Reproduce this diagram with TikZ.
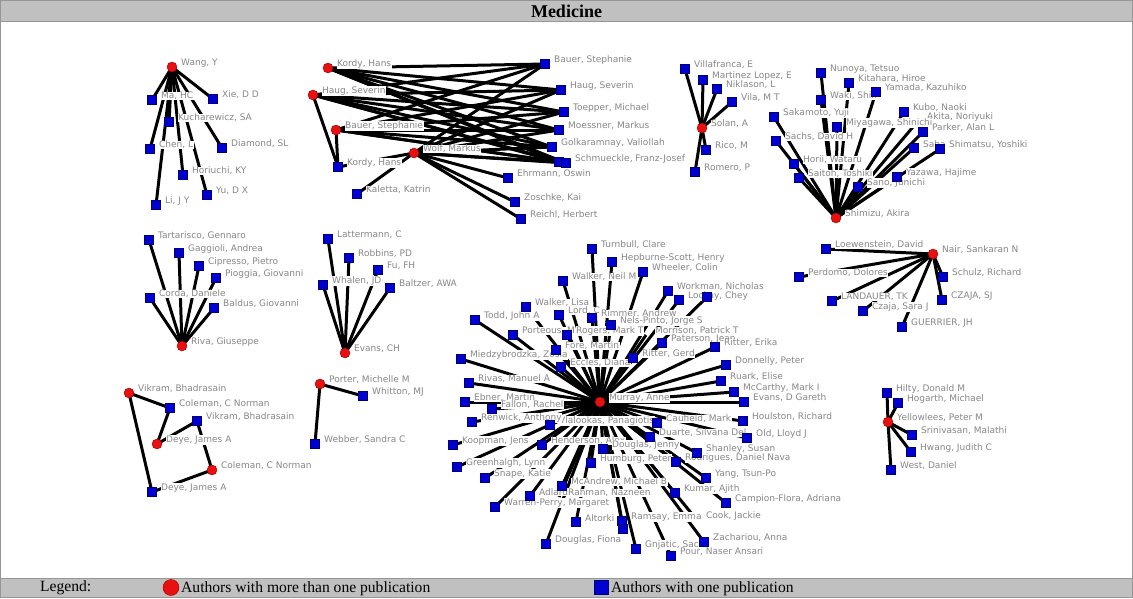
\documentclass[tikz,border=0pt]{standalone}
\usepackage{fontspec}
\setmainfont{Liberation Serif}
\newfontfamily\lblfont{DejaVu Sans}

\definecolor{barfill}{RGB}{192,192,192}
\definecolor{framegrey}{RGB}{150,150,150}
\definecolor{lblgrey}{RGB}{135,135,135}
\definecolor{sqblue}{RGB}{0,0,210}
\definecolor{sqedge}{RGB}{0,0,110}
\definecolor{dotred}{RGB}{232,16,16}
\definecolor{dotedge}{RGB}{150,0,0}

\tikzset{
  edge/.style={line width=3pt, black},
  lbl/.style={anchor=west, fill=white, text=lblgrey, inner xsep=0.5pt, inner ysep=0.5pt,
              font=\lblfont\fontsize{9}{9}\selectfont},
  single/.style={rectangle, draw=sqedge, fill=sqblue, minimum size=9.5pt, inner sep=0pt, line width=0.6pt},
  multi/.style={circle, draw=dotedge, fill=dotred, minimum size=10pt, inner sep=0pt, line width=0.4pt},
  frame/.style={draw=framegrey, line width=0.8pt},
  legendtext/.style={anchor=west, inner sep=0pt, font=\fontsize{15.6}{16}\selectfont},
}

% name / x / y / kind (0 none, 1 single paper, 2 several papers) / label
\def\authorlist{%
w0/172/67/2/{Wang, Y},
w1/152/100/1/{Ma, HC},
w2/213/99/1/{Xie, D D},
w3/169/122/1/{Kucharewicz, SA},
w4/150/149/1/{Chen, L},
w5/222/148/1/{Diamond, SL},
w6/183/175/1/{Horiuchi, KY},
w7/207/195/1/{Yu, D X},
w8/156/205/1/{Li, J Y},
k1/328/68/2/{Kordy, Hans},
k2/313/95/2/{Haug, Severin},
k3/336/130/2/{Bauer, Stephanie},
k4/338/167/1/{Kordy, Hans},
k5/414/153/2/{Wolf, Markus},
k6/357/194/1/{Kaletta, Katrin},
k7/545/64/1/{Bauer, Stephanie},
k8/561/90/1/{Haug, Severin},
k9/564/112/1/{Toepper, Michael},
k10/559/130/1/{Moessner, Markus},
k11/552/147/1/{Golkaramnay, Valiollah},
k13/559/162/1/{},
k12/566/163/1/{Schmueckle, Franz-Josef},
k14/508/178/1/{Ehrmann, Oswin},
k15/515/202/1/{Zoschke, Kai},
k16/521/219/1/{Reichl, Herbert},
s0/702/128/2/{Solan, A},
s1/685/69/1/{Villafranca, E},
s2/703/80/1/{Martinez Lopez, E},
s3/717/89/1/{Niklason, L},
s4/732/102/1/{Vila, M T},
s5/706/150/1/{Rico, M},
s6/695/172/1/{Romero, P},
h0/836/218/2/{Shimizu, Akira},
h1/821/73/1/{Nunoya, Tetsuo},
h2/849/83/1/{Kitahara, Hiroe},
h3/876/92/1/{Yamada, Kazuhiko},
h4/821/100/1/{Waki, Shin},
h5/904/112/1/{Kubo, Naoki},
h6/918/121/0/{Akita, Noriyuki},
h7/774/117/1/{Sakamoto, Yuji},
h8/837/127/1/{Miyagawa, Shinichi},
h9/923/132/1/{Parker, Alan L},
h10/776/141/1/{Sachs, David H},
h11/914/148/1/{Saba},
h12/940/149/1/{Shimatsu, Yoshiki},
h13/794/164/1/{Horii, Wataru},
h14/799/178/1/{Saitoh, Toshiki},
h15/897/177/1/{Yazawa, Hajime},
h16/858/187/1/{Sano, Junichi},
r0/182/346/2/{Riva, Giuseppe},
r1/149/240/1/{Tartarisco, Gennaro},
r2/179/253/1/{Gaggioli, Andrea},
r3/199/266/1/{Cipresso, Pietro},
r4/216/278/1/{Pioggia, Giovanni},
r5/150/298/1/{Corda, Daniele},
r6/214/308/1/{Baldus, Giovanni},
e0/345/353/2/{Evans, CH},
e1/328/239/1/{Lattermann, C},
e2/349/258/1/{Robbins, PD},
e3/378/270/1/{Fu, FH},
e4/323/285/1/{Whalen, JD},
e5/390/288/1/{Baltzer, AWA},
n0/933/254/2/{Nair, Sankaran N},
n1/826/249/1/{Loewenstein, David},
n2/799/277/1/{Perdomo, Dolores},
n3/943/277/1/{Schulz, Richard},
n4/832/301/1/{LANDAUER, TK},
n5/942/300/1/{CZAJA, SJ},
n6/863/311/1/{Czaja, Sara J},
n7/902/327/1/{GUERRIER, JH},
v1/129/393/2/{Vikram, Bhadrasain},
v2/170/408/1/{Coleman, C Norman},
v3/197/421/1/{Vikram, Bhadrasain},
v4/157/444/2/{Deye, James A},
v5/212/470/2/{Coleman, C Norman},
v6/152/492/1/{Deye, James A},
p0/320/384/2/{Porter, Michelle M},
p1/363/396/1/{Whitton, MJ},
p2/315/444/1/{Webber, Sandra C},
y0/888/422/2/{Yellowlees, Peter M},
y1/887/393/1/{Hilty, Donald M},
y2/898/403/1/{Hogarth, Michael},
y3/912/435/1/{Srinivasan, Malathi},
y4/911/452/1/{Hwang, Judith C},
y5/891/470/1/{West, Daniel},
m1/592/249/1/{Turnbull, Clare},
m2/612/262/1/{Hepburne-Scott, Henry},
m3/643/272/1/{Wheeler, Colin},
m4/563/281/1/{Walker, Neil M},
m5/668/291/1/{Workman, Nicholas},
m6/679/300/1/{Lockay, Chey},
m7/707/297/1/{},
m8/526/307/1/{Walker, Lisa},
m9/559/315/1/{Lord, C},
m10/592/318/1/{Rimmer, Andrew},
m11/611/325/1/{Nels-Pinto, Jorge S},
m12/475/320/1/{Todd, John A},
m13/513/335/1/{Porteous, M},
m14/567/335/1/{Rogers, Mark T},
m15/646/335/0/{Morrison, Patrick T},
m16/662/343/1/{Paterson, Jean},
m17/715/347/1/{Ritter, Erika},
m18/556/350/1/{Fore, Martin},
m19/633/358/1/{Ritter, Gerd},
m20/461/359/1/{Miedzybrodzka, Zosia},
m21/561/367/1/{Eccles, Diana},
m22/726/365/1/{Donnelly, Peter},
m23/469/383/1/{Rivas, Manuel A},
m24/721/381/1/{Ruark, Elise},
m25/734/392/1/{McCarthy, Mark I},
m26/744/402/1/{Evans, D Gareth},
m27/465/402/1/{Ebner, Martin},
m28/492/409/1/{Fallon, Rachel},
m30/550/425/1/{Vlalookas, Panagiotis},
m29/472/422/1/{Renwick, Anthony},
m31/657/423/1/{Caufield, Mark},
m32/743/421/1/{Houlston, Richard},
m33/453/445/1/{Koopman, Jens},
m34/542/445/1/{Henderson, Alex},
m35/650/437/1/{Duarte, Silvana Del},
m36/747/438/1/{Old, Lloyd J},
m37/603/449/1/{Douglas, Jenny},
m38/697/453/1/{Shanley, Susan},
m39/457/467/1/{Greenhalgh, Lynn},
m40/591/463/1/{Humburg, Peter},
m41/676/462/1/{Rodrigues, Daniel Nava},
m42/485/478/1/{Snape, Katie},
m43/706/478/1/{Yang, Tsun-Po},
m44/562/486/1/{McAndrew, Michael B},
m45/675/493/1/{Kumar, Ajith},
m46/530/496/1/{Adlard},
m47/559/497/0/{Rahman, Nazneen},
m48/726/503/1/{Campion-Flora, Adriana},
m49/495/507/1/{Warren-Perry, Margaret},
m50/576/522/1/{Altorki},
m51/622/521/1/{Ramsay, Emma},
m52/623/529/1/{},
m53/697/520/0/{Cook, Jackie},
m54/546/544/1/{Douglas, Fiona},
m55/636/549/1/{Gnjatic, Sacha},
m56/704/542/1/{Zachariou, Anna},
m57/671/556/1/{Pour, Naser Ansari},
m0/600/402/2/{Murray, Anne}%
}

\begin{document}
\begin{tikzpicture}[x=1pt,y=-1pt]
  \useasboundingbox (0,0) rectangle (1133,598);
  \fill[white] (0,0) rectangle (1133,598);

  % title bar and legend bar
  \fill[barfill] (0,0) rectangle (1133,21);
  \fill[barfill] (0,578) rectangle (1133,598);
  \draw[frame] (0.4,0.4) rectangle (1132.6,597.6);
  \draw[frame] (0,21) -- (1133,21);
  \draw[frame] (0,578) -- (1133,578);
  \node[font=\bfseries\fontsize{18}{18}\selectfont, inner sep=0pt] (title) at (566.5,11) {Medicine};

  % author positions
  \foreach \nm/\px/\py/\kk/\tx in \authorlist {
    \coordinate (\nm) at (\px,\py);
  }

  % co-authorship links
  \foreach \b in {w1,w2,w3,w4,w5,w6,w7,w8}
    \draw[edge] (w0) -- (\b);
  \foreach \a in {k1,k2,k3,k5}
    \foreach \b in {k7,k8,k9,k10,k11,k12,k13}
      \draw[edge] (\a) -- (\b);
  \foreach \a in {k2,k3,k5}
    \draw[edge] (\a) -- (k4);
  \foreach \b in {k6,k14,k15,k16}
    \draw[edge] (k5) -- (\b);
  \foreach \b in {s1,s2,s3,s4,s5,s6}
    \draw[edge] (s0) -- (\b);
  \foreach \b in {h1,h2,h3,h4,h5,h6,h7,h8,h9,h10,h11,h12,h13,h14,h15,h16}
    \draw[edge] (h0) -- (\b);
  \foreach \b in {r1,r2,r3,r4,r5,r6}
    \draw[edge] (r0) -- (\b);
  \foreach \b in {e1,e2,e3,e4,e5}
    \draw[edge] (e0) -- (\b);
  \foreach \b in {n1,n2,n3,n4,n5,n6,n7}
    \draw[edge] (n0) -- (\b);
  \draw[edge] (v1) -- (v2) -- (v4) -- (v3) -- (v5) -- (v6) -- (v1);
  \draw[edge] (p1) -- (p0) -- (p2);
  \foreach \b in {y1,y2,y3,y4,y5}
    \draw[edge] (y0) -- (\b);
  \foreach \b in {m1,m2,m3,m4,m5,m6,m7,m8,m9,m10,m11,m12,m13,m14,m15,m16,m17,m18,m19,m20,
                  m21,m22,m23,m24,m25,m26,m27,m28,m29,m30,m31,m32,m33,m34,m35,m36,m37,m38,m39,m40,
                  m41,m42,m43,m44,m45,m46,m47,m48,m49,m50,m51,m52,m53,m54,m55,m56,m57}
    \draw[edge] (m0) -- (\b);

  % author names
  \foreach \nm/\px/\py/\kk/\tx in \authorlist {
    \if\relax\detokenize\expandafter{\tx}\relax\else
      \node[lbl] (\nm-name) at ({\px+8.5},{\py-4}) {\tx};
    \fi
  }

  % author markers
  \foreach \nm/\px/\py/\kk/\tx in \authorlist {
    \ifcase\kk
    \or \node[single] (\nm-mark) at (\nm) {};
    \or \node[multi] (\nm-mark) at (\nm) {};
    \fi
  }

  % legend
  \node[legendtext] (legend) at (40,588) {Legend:};
  \node[multi, minimum size=16pt] (legmulti) at (171,587.5) {};
  \node[legendtext] (legmultitext) at (181,589) {Authors with more than one publication};
  \node[single, minimum size=14pt] (legsingle) at (601,587.5) {};
  \node[legendtext] (legsingletext) at (611,589) {Authors with one publication};
\end{tikzpicture}
\end{document}
